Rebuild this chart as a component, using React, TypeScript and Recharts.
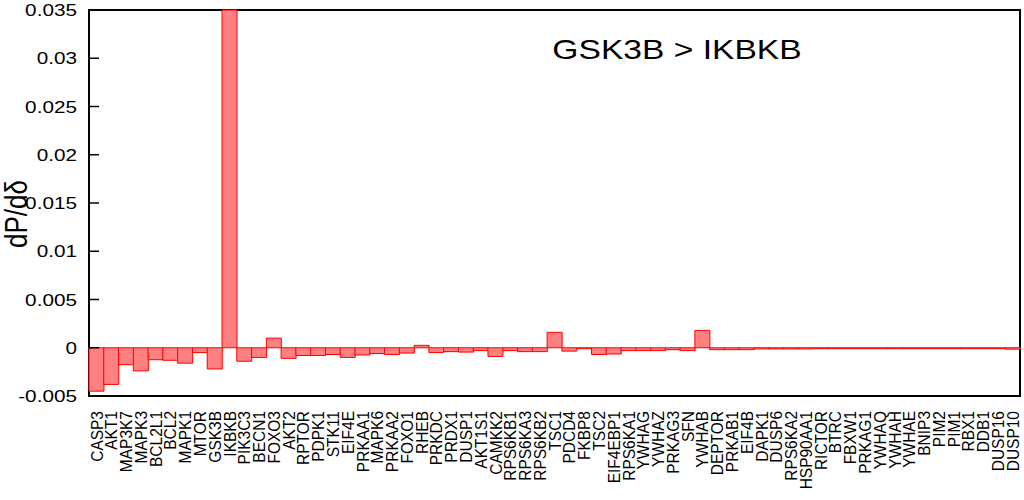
import React from "react";
import { BarChart, Bar, XAxis, YAxis, ReferenceArea } from "recharts";

const categories = [
  "CASP3", "AKT1", "MAP3K7", "MAPK3", "BCL2L1", "BCL2", "MAPK1", "MTOR", "GSK3B", "IKBKB",
  "PIK3C3", "BECN1", "FOXO3", "AKT2", "RPTOR", "PDPK1", "STK11", "EIF4E", "PRKAA1", "MAPK6",
  "PRKAA2", "FOXO1", "RHEB", "PRKDC", "PRDX1", "DUSP1", "AKT1S1", "CAMKK2", "RPS6KB1", "RPS6KA3",
  "RPS6KB2", "TSC1", "PDCD4", "FKBP8", "TSC2", "EIF4EBP1", "RPS6KA1", "YWHAG", "YWHAZ", "PRKAG3",
  "SFN", "YWHAB", "DEPTOR", "PRKAB1", "EIF4B", "DAPK1", "DUSP6", "RPS6KA2", "HSP90AA1", "RICTOR",
  "BTRC", "FBXW1", "PRKAG1", "YWHAQ", "YWHAH", "YWHAE", "BNIP3", "PIM2", "PIM1", "RBX1",
  "DDB1", "DUSP16", "DUSP10",
];

const values = [
  -0.0045, -0.0038, -0.00176, -0.0024, -0.00124, -0.0013, -0.0016, -0.0005, -0.0022, 0.035,
  -0.0014, -0.001, 0.001, -0.0011, -0.0008, -0.0008, -0.0007, -0.001, -0.00075, -0.0006,
  -0.0007, -0.00055, 0.00025, -0.0005, -0.0004, -0.00045, -0.0003, -0.0009, -0.0003, -0.0004,
  -0.0004, 0.0016, -0.00035, -0.0001, -0.0007, -0.00065, -0.0003, -0.0003, -0.0003, -0.0002,
  -0.0003, 0.0018, -0.0002, -0.0002, -0.0002, -0.00012, -0.00012, -0.00012, -0.00012, -0.0001,
  -0.0001, -0.0001, -0.0001, -0.0001, -0.0001, -0.0001, -0.0001, -0.0001, -0.0001, -0.0001,
  -0.0001, -0.0001, -0.00015,
];

const yTicks = [-0.005, 0, 0.005, 0.01, 0.015, 0.02, 0.025, 0.03, 0.035];
const yTickLabels = ["-0.005", "0", "0.005", "0.01", "0.015", "0.02", "0.025", "0.03", "0.035"];

const titleText = "GSK3B > IKBKB";
const yAxisTitle = "dP/dδ";

const data = categories.map((name, i) => ({ name, value: values[i] }));

const FONT = "'Liberation Sans', Arial, Helvetica, sans-serif";

const XTick = (props: any) => {
  const { x, y, payload } = props;
  return (
    <text
      transform={`translate(${x},${y + 15}) scale(1.1,1) rotate(-90)`}
      textAnchor="end"
      dy="0.36em"
      fontSize={15.5}
      fill="#000"
      fontFamily={FONT}
    >
      {payload.value}
    </text>
  );
};

const YTick = (props: any) => {
  const { x, y, payload } = props;
  const idx = yTicks.indexOf(payload.value);
  const label = idx >= 0 ? yTickLabels[idx] : String(payload.value);
  return (
    <g>
      <line x1={x} x2={x + 10} y1={y} y2={y} stroke="#000" strokeWidth={1.5} />
      <text
        transform={`translate(${x - 12},${y}) scale(1.22,1)`}
        textAnchor="end"
        dy="0.36em"
        fontSize={17}
        fill="#000"
        fontFamily={FONT}
      >
        {label}
      </text>
    </g>
  );
};

export default function App() {
  return (
    <div style={{ position: "absolute", left: 0, top: 0, width: 1024, height: 500, background: "#fff" }}>
      <BarChart
        width={1024}
        height={500}
        data={data}
        margin={{ top: 10, right: 4, left: 0, bottom: 0 }}
        barCategoryGap={0}
        barGap={0}
        style={{ fontFamily: FONT }}
      >
        <XAxis
          dataKey="name"
          interval={0}
          height={104}
          tickLine={false}
          axisLine={false}
          tickSize={0}
          tickMargin={0}
          tick={<XTick />}
        />
        <YAxis
          width={89}
          domain={[-0.005, 0.035]}
          ticks={yTicks}
          tickLine={false}
          axisLine={false}
          tickSize={0}
          tickMargin={0}
          tick={<YTick />}
        />
        <Bar dataKey="value" fill="#ff8080" stroke="#ff0000" strokeWidth={1} isAnimationActive={false} />
        <ReferenceArea
          y1={-0.005}
          y2={0.035}
          fill="none"
          fillOpacity={0}
          stroke="#000"
          strokeWidth={2}
          ifOverflow="visible"
        />
      </BarChart>
      <div
        style={{
          position: "absolute",
          left: 16,
          top: 214,
          transform: "translate(-50%, -50%) scale(1.2, 1) rotate(-90deg)",
          fontFamily: FONT,
          fontSize: 26,
          whiteSpace: "nowrap",
          color: "#000",
          lineHeight: 1,
        }}
      >
        {yAxisTitle}
      </div>
      <div
        style={{
          position: "absolute",
          left: 677,
          top: 50,
          transform: "translate(-50%, -50%) scale(1.2, 1)",
          fontFamily: FONT,
          fontSize: 28,
          whiteSpace: "nowrap",
          color: "#000",
          lineHeight: 1,
        }}
      >
        {titleText}
      </div>
    </div>
  );
}
